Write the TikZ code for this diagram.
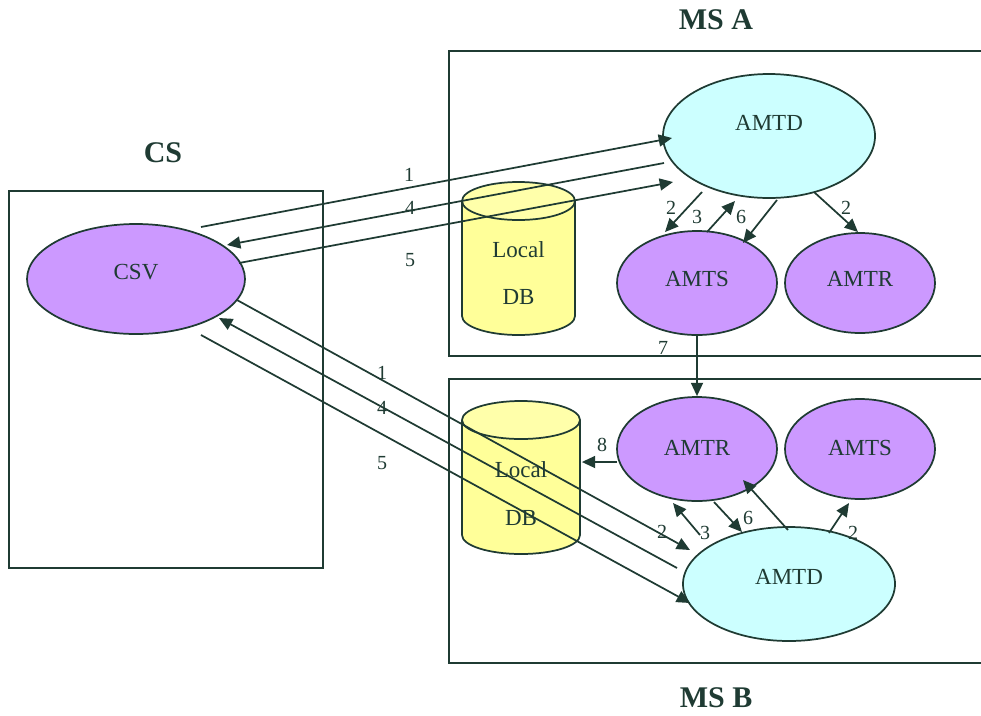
\documentclass[tikz,border=0pt]{standalone}
\usepackage{fontspec}
\setmainfont{Liberation Serif}
\usetikzlibrary{arrows.meta,calc,shapes.geometric}
\definecolor{ink}{HTML}{1F3B33}
\definecolor{lilac}{HTML}{CC99FF}
\definecolor{aqua}{HTML}{CCFFFF}
\definecolor{dbbody}{HTML}{FFFF99}
\definecolor{dbtop}{HTML}{FFFFAA}
\begin{document}
\begin{tikzpicture}[x=0.75pt,y=-0.75pt,color=ink,line width=1.3pt,
  frame/.style={draw,line width=1.3pt},
  proc/.style={ellipse,draw,inner sep=0pt,line width=1.3pt},
  sub/.style={proc,fill=lilac},
  daemon/.style={proc,fill=aqua},
  txt/.style={font=\fontsize{17.25}{20}\selectfont,inner sep=0pt},
  num/.style={font=\fontsize{15}{18}\selectfont,inner sep=0pt},
  title/.style={font=\bfseries\fontsize{22.5}{27}\selectfont,inner sep=0pt},
  arr/.style={-{Triangle[length=10pt,width=9pt]},line width=1.3pt},
  dbbox/.style={inner sep=0pt,minimum width=#1,minimum height=114.75pt}]
\useasboundingbox (0,0) rectangle (981,715);
\clip (0,0) rectangle (981,715);

% server frames
\draw[frame] (9,191) rectangle (323,568);
\draw[frame] (449,51) rectangle (1000,356);
\draw[frame] (449,379) rectangle (1000,663);
\node[title] (tcs) at (163,153) {CS};
\node[title] (tmsa) at (716,20) {MS A};
\node[title] (tmsb) at (716,698) {MS B};

% local databases
\node[dbbox=84.75pt] (dbA) at (518.5,258.5) {};
\filldraw[fill=dbbody] (462,201) -- (462,316)
  arc[start angle=180,end angle=360,x radius=42.375pt,y radius=14.25pt] -- (575,201);
\filldraw[fill=dbtop] (518.5,201) ellipse[x radius=42.375pt,y radius=14.25pt];
\node[txt] (dbAl) at (518.5,250) {Local};
\node[txt] (dbAd) at (518.5,297) {DB};

\node[dbbox=88.5pt] (dbB) at (521,477.5) {};
\filldraw[fill=dbbody] (462,420) -- (462,535)
  arc[start angle=180,end angle=360,x radius=44.25pt,y radius=14.25pt] -- (580,420);
\filldraw[fill=dbtop] (521,420) ellipse[x radius=44.25pt,y radius=14.25pt];
\node[txt] (dbBl) at (521,470) {Local};
\node[txt] (dbBd) at (521,518) {DB};

% processes
\node[sub,minimum width=163.5pt,minimum height=82.5pt,
  label={[txt,yshift=5.25pt]center:CSV}] (csv) at (136,279) {};
\node[daemon,minimum width=159pt,minimum height=93pt,
  label={[txt,yshift=9.75pt]center:AMTD}] (amtdA) at (769,136) {};
\node[sub,minimum width=120pt,minimum height=78pt,
  label={[txt,yshift=3pt]center:AMTS}] (amtsA) at (697,283) {};
\node[sub,minimum width=112.5pt,minimum height=75pt,
  label={[txt,yshift=3pt]center:AMTR}] (amtrA) at (860,283) {};
\node[sub,minimum width=120pt,minimum height=78pt,
  label={[txt,yshift=0.75pt]center:AMTR}] (amtrB) at (697,449) {};
\node[sub,minimum width=112.5pt,minimum height=75pt,
  label={[txt,yshift=0.75pt]center:AMTS}] (amtsB) at (860,449) {};
\node[daemon,minimum width=159pt,minimum height=85.5pt,
  label={[txt,yshift=5.25pt]center:AMTD}] (amtdB) at (789,584) {};

% CS <-> MS A
\draw[arr] ($(csv.center)+(65,-52)$) -- ($(amtdA.center)+(-97,2)$);
\draw[arr] ($(amtdA.center)+(-105,27)$) -- ($(csv.center)+(91,-34)$);
\draw[arr] ($(csv.center)+(103,-16)$) -- ($(amtdA.center)+(-96,46)$);
\node[num] (la1) at (409,175) {1};
\node[num] (la4) at (410,208) {4};
\node[num] (la5) at (410,260) {5};

% inside MS A
\draw[arr] ($(amtdA.center)+(-67,56)$) -- ($(amtsA.center)+(-32,-51)$);
\draw[arr] ($(amtsA.center)+(10,-51)$) -- ($(amtdA.center)+(-34,65)$);
\draw[arr] ($(amtdA.center)+(8,64)$) -- ($(amtsA.center)+(46,-40)$);
\draw[arr] ($(amtdA.center)+(45,56)$) -- ($(amtrA.center)+(-2,-51)$);
\node[num] (lb2) at (671,208) {2};
\node[num] (lb3) at (697,217) {3};
\node[num] (lb6) at (741,217) {6};
\node[num] (lb2r) at (846,208) {2};

% MS A -> MS B
\draw[arr] (amtsA.south) -- (amtrB.north);
\node[num] (lc7) at (663,348) {7};

% CS <-> MS B
\draw[arr] ($(csv.center)+(101,21)$) -- ($(amtdB.center)+(-99,-34)$);
\draw[arr] ($(amtdB.center)+(-112,-16)$) -- ($(csv.center)+(83,39)$);
\draw[arr] ($(csv.center)+(65,56)$) -- ($(amtdB.center)+(-99,19)$);
\node[num] (ld1) at (382,373) {1};
\node[num] (ld4) at (382,408) {4};
\node[num] (ld5) at (382,463) {5};

% inside MS B
\draw[arr] ($(amtrB.center)+(-80,13)$) -- ($(dbB.east)+(1,-15.5)$);
\draw[arr] ($(amtdB.center)+(-89,-49)$) -- ($(amtrB.center)+(-24,54)$);
\draw[arr] ($(amtrB.center)+(17,53)$) -- ($(amtdB.center)+(-47,-52)$);
\draw[arr] ($(amtdB.center)+(-1,-54)$) -- ($(amtrB.center)+(46,31)$);
\draw[arr] ($(amtdB.center)+(40,-51)$) -- ($(amtsB.center)+(-11,54)$);
\node[num] (le8) at (602,445) {8};
\node[num] (le2) at (662,532) {2};
\node[num] (le3) at (705,533) {3};
\node[num] (le6) at (748,518) {6};
\node[num] (le2r) at (853,533) {2};
\end{tikzpicture}
\end{document}
